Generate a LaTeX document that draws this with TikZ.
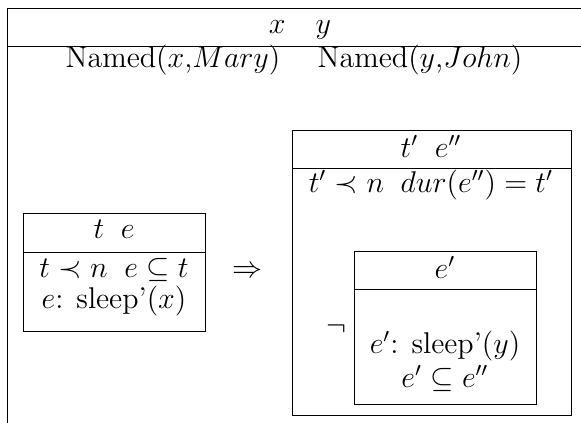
\documentclass[tikz,border=0pt,12pt]{standalone}
\usepackage{amsmath,amssymb}
\usepackage{tikz}

\begin{document}
\begin{tikzpicture}[x=0.4pt,y=-0.4pt,
    cond/.style={inner sep=0pt,anchor=base},
    boxline/.style={draw=black,line width=0.4pt}]
                \useasboundingbox (0,0) rectangle (581,422);
                \clip (0,0) rectangle (581,422);
                
                % main box (cut off at right and bottom)
                \draw[boxline] (7,440) -- (7,8) -- (600,8);
                \draw[boxline] (7,46) -- (600,46);
                \node[cond] (univ) at (300,33) {$x \quad y$};
                \node[cond] (namedx) at (173,67) {Named($x$,$Mary$)};
                \node[cond] (namedy) at (420,67) {Named($y$,$John$)};
                
                % antecedent
                \draw[boxline] (23,213) rectangle (205,331);
                \draw[boxline] (23,252) -- (205,252);
                \node[cond] (antuniv) at (114,238) {$t \;\; e$};
                \node[cond] (antc1) at (114,277) {$t \prec n \;\; e \subseteq t$};
                \node[cond] (antc2) at (114,308) {$e$: sleep'($x$)};
                
                \node[cond,anchor=center] (impl) at (247,272) {$\Rightarrow$};
                
                % consequent
                \draw[boxline] (292,130) rectangle (571,415);
                \draw[boxline] (292,168) -- (571,168);
                \node[cond] (conuniv) at (431,157) {$t' \;\; e''$};
                \node[cond] (conc1) at (431,192) {$t' \prec n \;\; dur(e'') = t'$};
                
                \node[cond,anchor=center] (neg) at (336,329) {$\neg$};
                \draw[boxline] (354,251) rectangle (536,404);
                \draw[boxline] (354,289) -- (536,289);
                \node[cond] (neguniv) at (445,278) {$e'$};
                \node[cond] (negc1) at (445,353) {$e'$: sleep'($y$)};
                \node[cond] (negc2) at (445,387) {$e' \subseteq e''$};
            \end{tikzpicture}
\end{document}
